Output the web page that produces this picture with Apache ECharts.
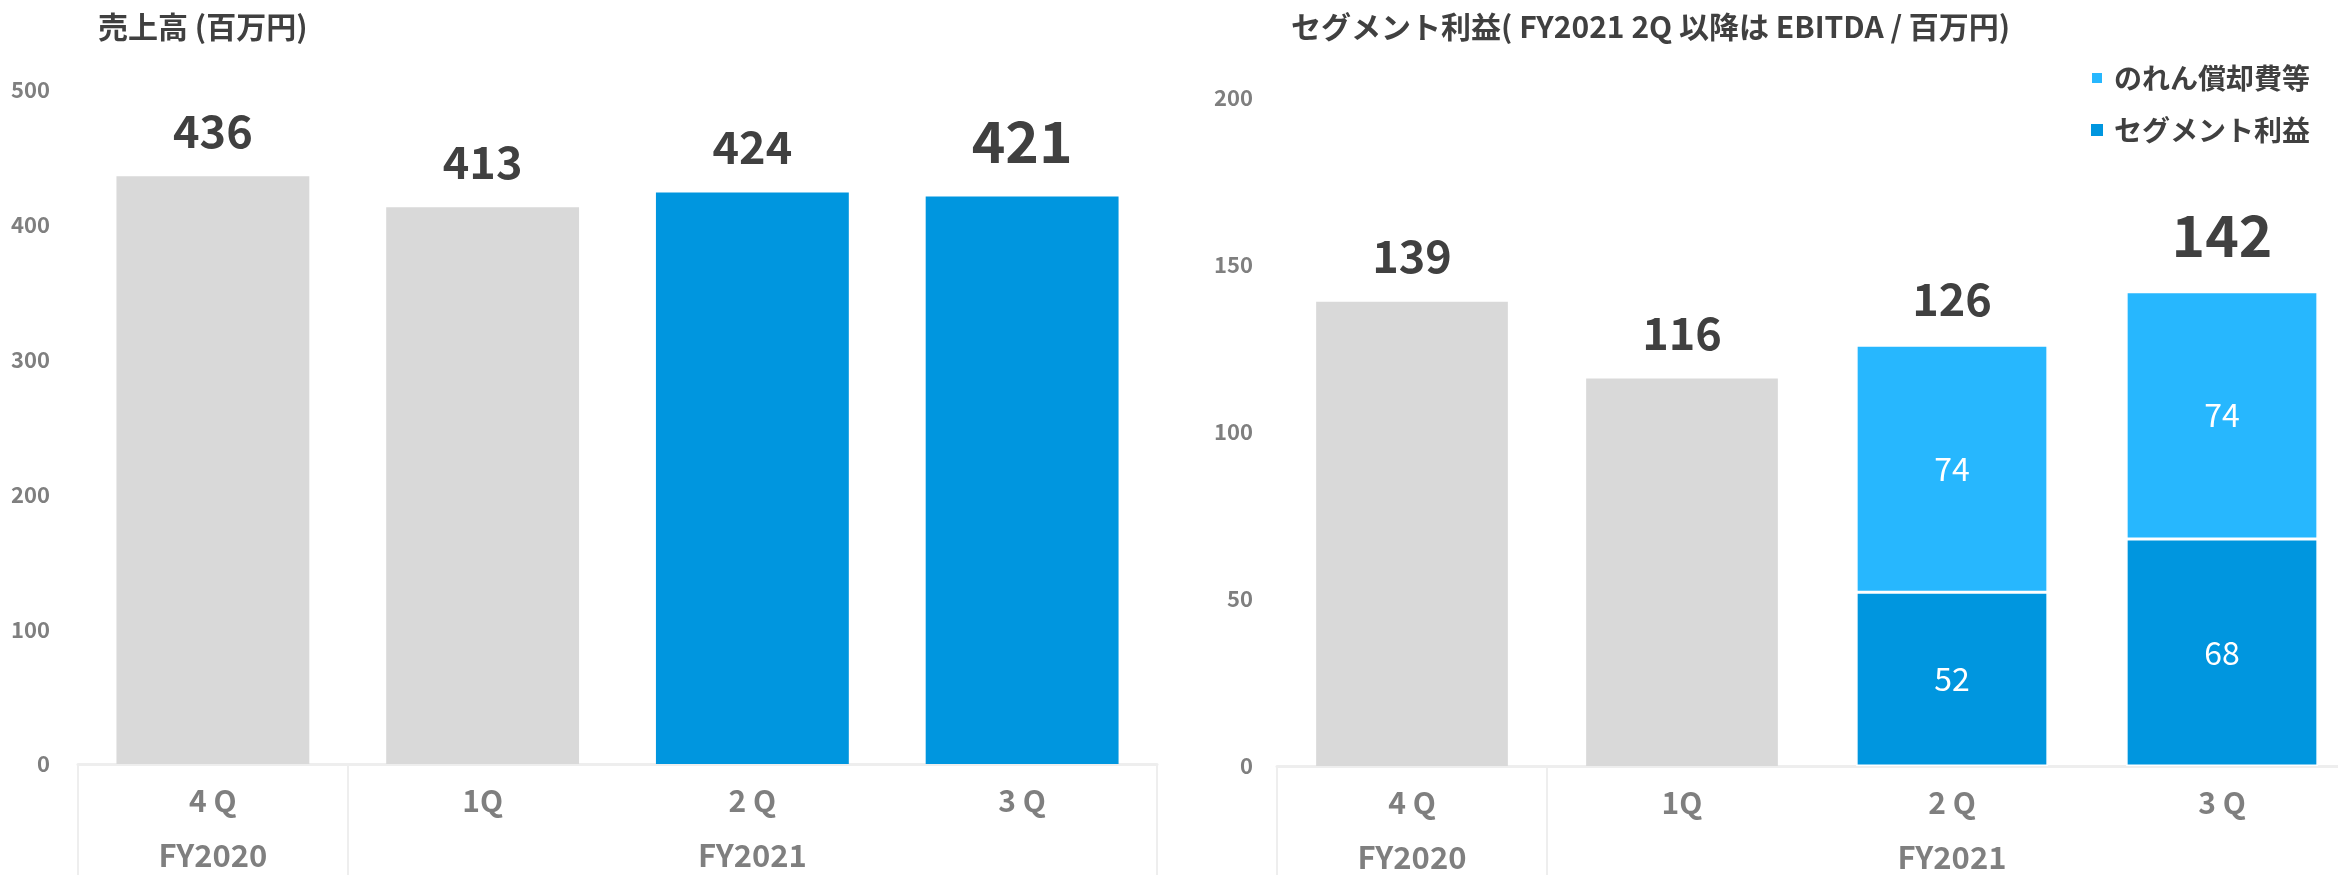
<!DOCTYPE html>
<html>
<head>
<meta charset="utf-8">
<script src="https://cdn.jsdelivr.net/npm/echarts@6/dist/echarts.min.js"></script>
<style>
html,body{margin:0;padding:0;background:#fff;}
#chart{width:2338px;height:875px;}
</style>
</head>
<body>
<div id="chart"></div>
<script>
// ---- data ----
const categories = ['4 Q', '1Q', '2 Q', '3 Q'];
const fiscalYears = ['FY2020', '', 'FY2021', ''];
const salesValues = [436, 413, 424, 421];
const segmentProfit = [139, 116, 52, 68];
const goodwillAmort = [null, null, 74, 74];
const salesTitle = '売上高 (百万円)';
const profitTitle = 'セグメント利益( FY2021 2Q 以降は EBITDA / 百万円)';
const legendNames = ['のれん償却費等', 'セグメント利益'];
const firstBlueIndex = 2;

// ---- styles ----
const FONT = '"Noto Sans CJK JP", "Noto Sans", sans-serif';
const GREY = '#D9D9D9';
const BLUE = '#0096DF';
const LIGHT_BLUE = '#27B7FE';
const TEXT_DARK = '#404040';
const TEXT_AXIS = '#7F7F7F';
const LINE = '#EEEEEE';
const lastIdx = categories.length - 1;

const totals = segmentProfit.map((v, i) => v + (goodwillAmort[i] == null ? 0 : goodwillAmort[i]));

function topLabel(i) {
  const big = i === lastIdx;
  return {
    show: true, position: 'top',
    distance: big ? 27 : 23,
    fontSize: big ? 57 : 45,
    fontWeight: 'bold', color: TEXT_DARK, fontFamily: FONT
  };
}
const insideLabel = { show: true, position: 'inside', color: '#fff', fontSize: 32, fontFamily: FONT };

function catX(gridIndex) {
  return {
    gridIndex: gridIndex, type: 'category', data: categories,
    axisLine: { show: true, lineStyle: { color: LINE, width: 3 } },
    axisTick: { show: true, length: 115, interval: function (i) { return i <= 1; }, lineStyle: { color: LINE, width: 2 } },
    axisLabel: { margin: 22, fontSize: 30, fontWeight: 'bold', color: TEXT_AXIS, fontFamily: FONT, interval: 0 },
    splitLine: { show: false }
  };
}
function fyX(gridIndex) {
  return {
    gridIndex: gridIndex, type: 'category', data: fiscalYears, position: 'bottom',
    axisLine: { show: false }, axisTick: { show: false }, splitLine: { show: false },
    axisLabel: { margin: 76, fontSize: 31, fontWeight: 'bold', color: TEXT_AXIS, fontFamily: FONT, interval: 0 }
  };
}
function valY(gridIndex, max, interval, margin) {
  return {
    gridIndex: gridIndex, type: 'value', min: 0, max: max, interval: interval,
    axisLine: { show: false }, axisTick: { show: false }, splitLine: { show: false },
    axisLabel: { margin: margin, fontSize: 22, fontWeight: 'bold', color: TEXT_AXIS, fontFamily: FONT }
  };
}

const option = {
  animation: false,
  backgroundColor: '#fff',
  textStyle: { fontFamily: FONT },
  title: [
    { text: salesTitle, left: 98, top: 12, padding: 0,
      textStyle: { fontSize: 30, fontWeight: 'bold', color: TEXT_DARK, fontFamily: FONT } },
    { text: profitTitle, left: 1291, top: 12, padding: 0,
      textStyle: { fontSize: 30, fontWeight: 'bold', color: TEXT_DARK, fontFamily: FONT } }
  ],
  legend: {
    orient: 'vertical', right: 28, top: 64, padding: 0,
    itemWidth: 12, itemHeight: 12, itemGap: 24, icon: 'rect',
    data: legendNames,
    textStyle: { fontSize: 28, fontWeight: 'bold', color: TEXT_DARK, fontFamily: FONT, padding: [0, 0, 0, 6] }
  },
  grid: [
    { left: 78, right: 1181, top: 90, bottom: 111, outerBoundsMode: 'none' },
    { left: 1277, right: -19, top: 98, bottom: 109, outerBoundsMode: 'none' }
  ],
  xAxis: [catX(0), fyX(0), catX(1), fyX(1)],
  yAxis: [valY(0, 500, 100, 28), valY(1, 200, 50, 24)],
  series: [
    {
      name: '売上高', type: 'bar', xAxisIndex: 0, yAxisIndex: 0, barWidth: '71.5%',
      data: salesValues.map((v, i) => ({
        value: v,
        itemStyle: { color: i >= firstBlueIndex ? BLUE : GREY },
        label: topLabel(i)
      }))
    },
    {
      name: legendNames[1], type: 'bar', xAxisIndex: 2, yAxisIndex: 1, stack: 'profit', barWidth: '71%',
      itemStyle: { color: BLUE },
      data: segmentProfit.map((v, i) => i >= firstBlueIndex
        ? { value: v, itemStyle: { color: BLUE, borderColor: '#fff', borderWidth: 1.5 }, label: insideLabel }
        : { value: v, itemStyle: { color: GREY }, label: { show: false } })
    },
    {
      name: legendNames[0], type: 'bar', xAxisIndex: 2, yAxisIndex: 1, stack: 'profit', barWidth: '71%',
      itemStyle: { color: LIGHT_BLUE, borderColor: '#fff', borderWidth: 1.5 },
      label: insideLabel,
      data: goodwillAmort.map(v => v == null ? '-' : v)
    },
    {
      name: 'total', type: 'scatter', xAxisIndex: 2, yAxisIndex: 1,
      symbol: 'circle', symbolSize: 1, itemStyle: { color: 'rgba(0,0,0,0)', opacity: 1 }, silent: true, z: 5,
      data: totals.map((v, i) => ({ value: v, label: topLabel(i) }))
    }
  ]
};

const chart = echarts.init(document.getElementById('chart'), null, { renderer: 'canvas' });
chart.setOption(option);
</script>
</body>
</html>
